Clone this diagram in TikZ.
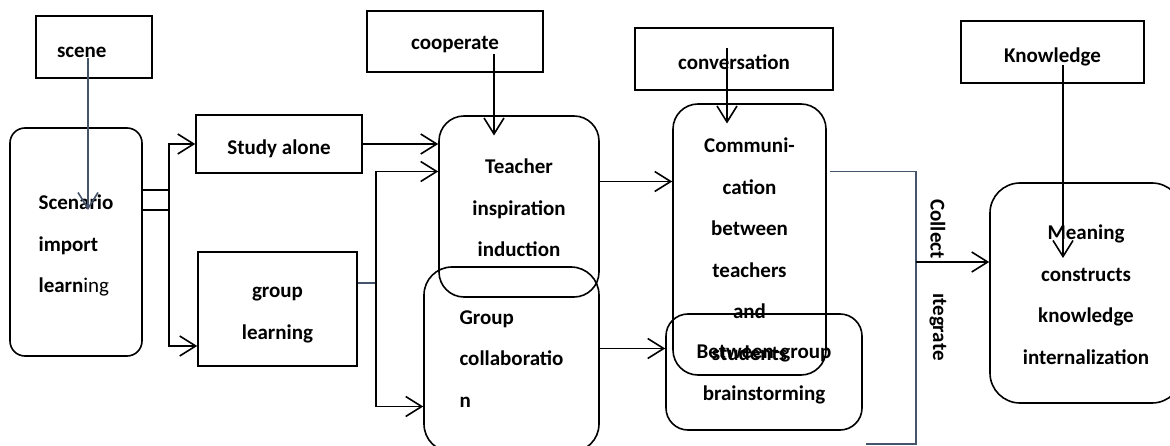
\documentclass[tikz,border=0pt]{standalone}
\usepackage{fontspec}
\setmainfont{Carlito}
\usepackage{tikz}
\usetikzlibrary{positioning,arrows.meta}

\begin{document}
\begin{tikzpicture}[
    x = 1pt, y = -1pt,
    > = {Straight Barb[length=16pt, width=20pt]},
    line width = 1.6pt,
    font = \fontsize{21}{41.5}\selectfont\bfseries,
    plain/.style={rectangle, draw, inner sep=0pt, text depth=0pt},
    soft/.style={rectangle, draw, rounded corners=#1, inner sep=0pt, text depth=0pt},
    soft/.default=25pt,
    slate/.style={draw=slate},
    sidetext/.style={rotate=-90, inner sep=0pt}
]
    \definecolor{slate}{HTML}{44546A}
    \useasboundingbox (0,0) rectangle (1170,446);

    \node[plain, minimum width=116pt, minimum height=62pt, text width=74pt, align=left, text height=22pt] (scene) at (94,47) {scene};
    \node[soft=15pt, minimum width=132pt, minimum height=228pt, align=left, text height=102pt] (scenario) at (76,242) {Scenario\\import\\learn{\mdseries ing}};
    \node[plain, minimum width=166pt, minimum height=58pt, text height=22pt] (study) at (279,144) {Study alone};
    \node[plain, minimum width=159pt, minimum height=114pt, align=center, text height=60pt] (grouplearn) at (277.5,309) {group\\learning};
    \node[plain, minimum width=176pt, minimum height=61pt, text height=17pt] (cooperate) at (455,41.5) {cooperate};
    \node[soft, minimum width=160pt, minimum height=181pt, align=center, text height=101pt] (teacher) at (519,206.5) {Teacher\\inspiration\\induction};
    \node[soft=28pt, minimum width=175pt, minimum height=185pt, align=left, text height=95pt] (groupcollab) at (511.5,359.5) {Group\\collaboratio\\n};
    \node[plain, minimum width=198pt, minimum height=62pt, text height=22pt] (conversation) at (734,59) {conversation};
    \node[soft, minimum width=153pt, minimum height=271pt, align=center, text height=241pt] (comm) at (749.5,239.5) {Communi-\\cation\\between\\teachers\\and\\students};
    \node[soft=22pt, minimum width=196pt, minimum height=116pt, align=center, text height=56pt] (between) at (764,372) {Between-group\\brainstorming};
    \node[plain, minimum width=183pt, minimum height=62pt, text height=22pt] (knowledge) at (1052.5,52) {Knowledge};
    \node[soft=30pt, minimum width=192pt, minimum height=220pt, align=center, text height=142pt] (meaning) at (1086,293) {Meaning\\constructs\\knowledge\\internalization};

    \node[sidetext] (collect) at (938,229) {Collect};
    \node[sidetext] (integrate) at (938,327) {ıtegrate};

    \coordinate (merge) at (376,288);
    \coordinate (gather) at (916,262);

    \draw[->, slate] ([shift={(-6,11)}]scene.center) -- ([shift={(12,-32)}]scenario.center);
    \draw[->] ([yshift=52pt]scenario.east) -- ++(26,0) |- ([yshift=-37pt]grouplearn.west);
    \draw[->] ([yshift=32pt]scenario.east) -- ++(26,0) |- (study.west);
    \draw[slate] ([yshift=26pt]grouplearn.east) -- ++(17,0);
    \draw[->] (merge) |- ([yshift=35pt]teacher.west);
    \draw[->] (merge) |- ([yshift=-47pt]groupcollab.west);
    \draw[->] (study.east) -- (study.east -| teacher.west);
    \draw[->] ([shift={(39,13)}]cooperate.center) -- ([shift={(-25,-71)}]teacher.center);
    \draw[->] ([yshift=25pt]teacher.east) -- ([yshift=25pt]teacher.east -| comm.west);
    \draw[->] ([yshift=11pt]groupcollab.east) -- ([yshift=11pt]groupcollab.east -| between.west);
    \draw[->] ([shift={(-7,-11)}]conversation.center) -- ([shift={(-22.5,-116)}]comm.center);
    \draw[slate] ([shift={(3,-68)}]comm.east) -| (gather) |- ++(-50,182);
    \draw[->] (gather) -- (gather -| meaning.west);
    \draw[->] ([shift={(10.5,13)}]knowledge.center) -- ([shift={(-23,-35)}]meaning.center);
\end{tikzpicture}
\end{document}
